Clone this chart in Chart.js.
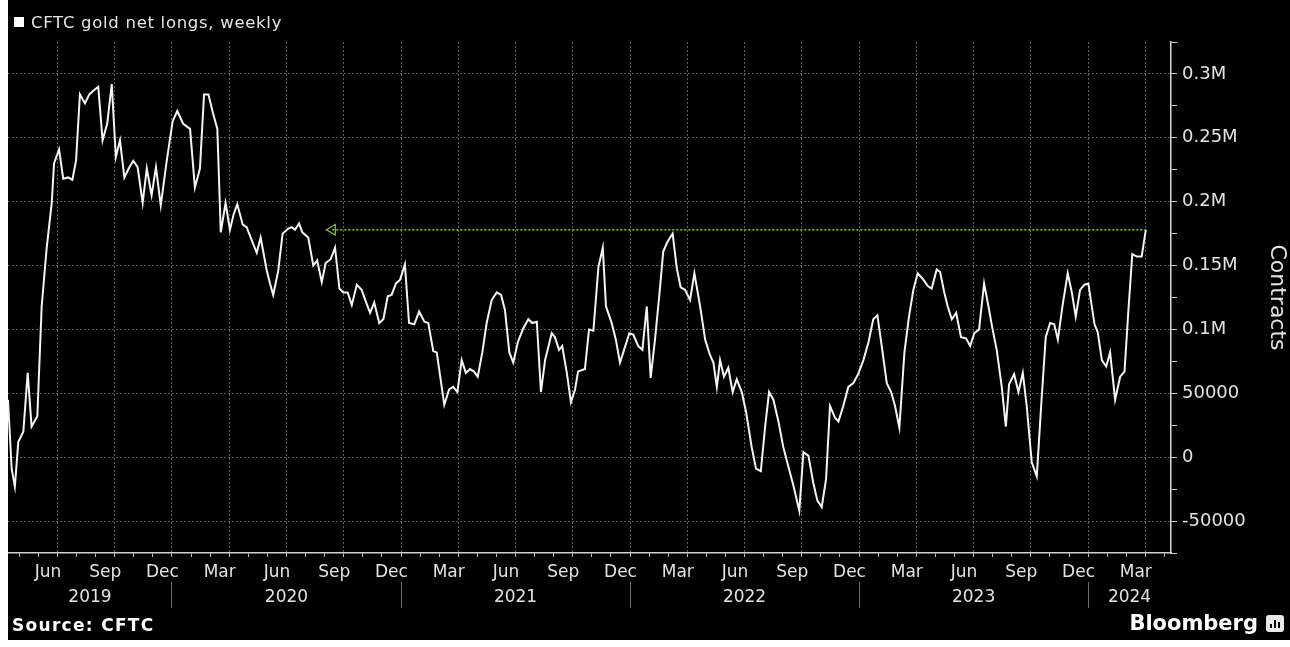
<!DOCTYPE html>
<html>
<head>
<meta charset="utf-8">
<title>CFTC gold net longs, weekly</title>
<script src="https://cdn.jsdelivr.net/npm/chart.js@4.4.1/dist/chart.umd.min.js"></script>
<style>
  body { margin: 0; background: #fff; width: 1290px; height: 647px; overflow: hidden; font-family: "DejaVu Sans", sans-serif; }
  #frame { position: absolute; left: 8px; top: 0; width: 1282px; height: 640px; background: #000; }
  #wrap { position: absolute; left: 0; top: 0; width: 1282px; height: 640px; }
  #legend { position: absolute; left: 6px; top: 12px; height: 20px; display: flex; align-items: center; color: #e6e6e6; font-size: 16.5px; letter-spacing: 0.7px; }
  #legend .box { width: 10px; height: 10px; background: #fff; margin-right: 7px; }
  #source { position: absolute; left: 4px; top: 614px; line-height: 22px; color: #fff; font-weight: bold; font-size: 17px; letter-spacing: 1.3px; }
  #brand { position: absolute; right: 32px; top: 611px; line-height: 25px; color: #fff; font-weight: bold; font-size: 21px; }
  #logo { position: absolute; left: 1258px; top: 615px; width: 18px; height: 17px; background: #e8e8e8; border-radius: 3px; }
  #logo i { position: absolute; bottom: 4px; width: 2px; background: #000; }
</style>
</head>
<body>
<div id="frame">
  <div id="wrap"><canvas id="gold-chart"></canvas></div>
  <div id="legend"><span class="box"></span>CFTC gold net longs, weekly</div>
  <div id="source">Source: CFTC</div>
  <div id="brand">Bloomberg</div>
  <div id="logo"><i style="left:4px;height:4px"></i><i style="left:8px;height:8px"></i><i style="left:12px;height:6px"></i></div>
</div>
<script>
// report dates as decimal years, net longs in thousand contracts
const weekDates = [
  2019.284, 2019.300, 2019.314, 2019.329, 2019.351, 2019.370, 2019.387, 2019.412, 2019.431, 2019.453,
  2019.475, 2019.485, 2019.507, 2019.525, 2019.547, 2019.565, 2019.581, 2019.598, 2019.620, 2019.639,
  2019.658, 2019.678, 2019.697, 2019.717, 2019.737, 2019.755, 2019.773, 2019.792, 2019.811, 2019.831,
  2019.850, 2019.872, 2019.890, 2019.911, 2019.930, 2019.951, 2019.977, 2020.003, 2020.023, 2020.049,
  2020.079, 2020.100, 2020.122, 2020.140, 2020.159, 2020.178, 2020.198, 2020.213, 2020.234, 2020.253,
  2020.269, 2020.285, 2020.309, 2020.326, 2020.348, 2020.370, 2020.387, 2020.414, 2020.428, 2020.442,
  2020.464, 2020.483, 2020.508, 2020.523, 2020.537, 2020.555, 2020.569, 2020.595, 2020.617, 2020.634,
  2020.654, 2020.671, 2020.693, 2020.712, 2020.731, 2020.748, 2020.767, 2020.785, 2020.807, 2020.828,
  2020.846, 2020.865, 2020.883, 2020.905, 2020.923, 2020.942, 2020.959, 2020.978, 2020.996, 2021.017,
  2021.035, 2021.058, 2021.079, 2021.102, 2021.119, 2021.141, 2021.156, 2021.172, 2021.189, 2021.210,
  2021.228, 2021.246, 2021.265, 2021.283, 2021.301, 2021.319, 2021.335, 2021.355, 2021.374, 2021.396,
  2021.418, 2021.437, 2021.454, 2021.473, 2021.490, 2021.510, 2021.534, 2021.556, 2021.573, 2021.593,
  2021.611, 2021.629, 2021.658, 2021.672, 2021.690, 2021.704, 2021.724, 2021.742, 2021.760, 2021.773,
  2021.803, 2021.821, 2021.840, 2021.862, 2021.881, 2021.895, 2021.920, 2021.938, 2021.956, 2021.974,
  2021.997, 2022.014, 2022.036, 2022.054, 2022.073, 2022.090, 2022.109, 2022.131, 2022.145, 2022.162,
  2022.175, 2022.186, 2022.204, 2022.221, 2022.240, 2022.262, 2022.281, 2022.306, 2022.328, 2022.349,
  2022.364, 2022.379, 2022.393, 2022.410, 2022.429, 2022.448, 2022.466, 2022.488, 2022.507, 2022.531,
  2022.550, 2022.571, 2022.590, 2022.607, 2022.626, 2022.648, 2022.669, 2022.691, 2022.713, 2022.739,
  2022.757, 2022.779, 2022.800, 2022.818, 2022.837, 2022.856, 2022.873, 2022.895, 2022.910, 2022.931,
  2022.953, 2022.975, 2022.996, 2023.019, 2023.041, 2023.062, 2023.080, 2023.099, 2023.121, 2023.140,
  2023.157, 2023.176, 2023.198, 2023.218, 2023.237, 2023.256, 2023.281, 2023.300, 2023.317, 2023.339,
  2023.354, 2023.372, 2023.387, 2023.405, 2023.424, 2023.445, 2023.467, 2023.485, 2023.503, 2023.524,
  2023.546, 2023.565, 2023.582, 2023.601, 2023.623, 2023.641, 2023.655, 2023.677, 2023.696, 2023.715,
  2023.732, 2023.754, 2023.776, 2023.795, 2023.815, 2023.834, 2023.852, 2023.868, 2023.888, 2023.911,
  2023.929, 2023.946, 2023.965, 2023.984, 2024.001, 2024.028, 2024.042, 2024.060, 2024.079, 2024.096,
  2024.118, 2024.140, 2024.159, 2024.176, 2024.193, 2024.213, 2024.234, 2024.252
];
const netLongsK = [
  45, -9, -23, 12, 20, 66, 24, 32, 118, 164,
  199, 230, 241, 218, 219, 217, 232, 284, 277, 284,
  287, 290, 248, 261, 292, 235, 248, 219, 226, 232,
  227, 199, 226, 205, 227, 197, 232, 263, 271, 261,
  257, 211, 226, 284, 284, 270, 257, 176, 199, 178,
  190, 198, 182, 180, 170, 160, 172, 146, 136, 127,
  146, 175, 179, 180, 178, 183, 176, 172, 150, 154,
  137, 152, 155, 164, 132, 129, 129, 119, 135, 131,
  122, 113, 121, 105, 108, 126, 127, 136, 139, 151,
  105, 104, 114, 106, 105, 83, 82, 62, 41, 53,
  55, 51, 76, 66, 69, 67, 63, 82, 105, 123,
  129, 127, 115, 82, 74, 90, 101, 108, 105, 106,
  51, 76, 97, 94, 84, 87, 66, 43, 53, 67,
  69, 100, 99, 149, 164, 118, 105, 92, 74, 84,
  97, 96, 87, 84, 118, 62, 92, 133, 161, 168,
  172, 175, 148, 133, 131, 123, 144, 118, 92, 80,
  74, 55, 76, 63, 70, 51, 61, 51, 35, 8,
  -9, -11, 24, 51, 45, 28, 8, -7, -22, -42,
  4, 1, -20, -34, -39, -17, 40, 31, 28, 40,
  55, 58, 65, 76, 90, 108, 111, 87, 58, 51,
  40, 23, 82, 110, 131, 144, 139, 134, 132, 147,
  145, 129, 118, 108, 113, 94, 93, 87, 97, 100,
  136, 118, 101, 84, 55, 24, 57, 65, 51, 66,
  40, -4, -15, 40, 94, 105, 104, 92, 118, 144,
  129, 110, 131, 135, 136, 104, 98, 76, 71, 82,
  45, 63, 67, 115, 159, 157, 157, 178
];
// green dotted marker back to the last time longs were this high
const refDates = [2020.70, 2024.252];
const refLevelsK = [178, 178];

const monthNames = ["Jan", "Feb", "Mar", "Apr", "May", "Jun", "Jul", "Aug", "Sep", "Oct", "Nov", "Dec"];
const labelledMonths = ["Mar", "Jun", "Sep", "Dec"];
const years = [2019, 2020, 2021, 2022, 2023, 2024];

const xMin = 2019.284;
const xMax = 2024.362;

const textColor = "#e2e2e2";
const gridColor = "#5c5c5c";

Chart.defaults.font.family = '"DejaVu Sans", sans-serif';

function monthBoundaryTicks() {
  const out = [];
  years.forEach((y) => {
    for (let m = 0; m < 12; m++) {
      const v = y + m / 12;
      if (v > xMin && v < xMax) out.push({ value: v, quarter: m % 3 === 0 });
    }
  });
  return out;
}

function monthLabelTicks() {
  const out = [];
  years.forEach((y) => {
    monthNames.forEach((name, m) => {
      const v = y + (m + 0.5) / 12;
      if (v > xMin && v < xMax) out.push({ value: v, name: labelledMonths.includes(name) ? name : "" });
    });
  });
  return out;
}

function yearTicks() {
  const out = [];
  years.forEach((y) => {
    if (y > xMin) out.push({ value: y, name: "", sep: true });
    const a = Math.max(y, xMin);
    const b = Math.min(y + 1, xMax);
    out.push({ value: (a + b) / 2, name: String(y) });
  });
  return out;
}

function formatContracts(v) {
  if (v % 50000 !== 0) return "";
  return Math.abs(v) >= 100000 ? v / 1e6 + "M" : String(v);
}

new Chart(document.getElementById("gold-chart"), {
  type: "line",
  data: {
    datasets: [
      {
        label: "CFTC gold net longs, weekly",
        data: weekDates.map((d, i) => ({ x: d, y: netLongsK[i] * 1000 })),
        borderColor: "#f4f4f4",
        borderWidth: 2,
        pointRadius: 0,
        tension: 0,
        order: 1,
      },
      {
        label: "Current level",
        data: refDates.map((d, i) => ({ x: d, y: refLevelsK[i] * 1000 })),
        borderColor: "#8cc63f",
        borderWidth: 1.5,
        borderDash: [2, 2],
        pointStyle: "triangle",
        pointRotation: -90,
        pointRadius: [6, 0],
        pointBorderColor: "#8cc63f",
        pointBackgroundColor: "rgba(0,0,0,0)",
        pointBorderWidth: 1.2,
        order: 2,
      },
    ],
  },
  options: {
    responsive: true,
    maintainAspectRatio: false,
    animation: false,
    events: [],
    layout: { autoPadding: false, padding: { top: 42, left: 0, right: 0, bottom: 30 } },
    plugins: {
      legend: { display: false },
      tooltip: { enabled: false },
    },
    scales: {
      x: {
        type: "linear",
        position: "bottom",
        min: xMin,
        max: xMax,
        afterBuildTicks: (scale) => { scale.ticks = monthBoundaryTicks(); },
        afterFit: (scale) => { scale.height = 9; },
        ticks: { display: false, autoSkip: false, padding: 0 },
        grid: {
          color: (ctx) => (ctx.tick && ctx.tick.quarter ? gridColor : "rgba(0,0,0,0)"),
          tickColor: "#bdbdbd",
          tickLength: 4,
        },
        border: { color: "#d0d0d0", width: 1.5, dash: [2, 2] },
      },
      months: {
        type: "linear",
        position: "bottom",
        min: xMin,
        max: xMax,
        afterBuildTicks: (scale) => { scale.ticks = monthLabelTicks(); },
        afterFit: (scale) => { scale.height = 20; },
        ticks: {
          autoSkip: false,
          maxRotation: 0,
          color: textColor,
          font: { size: 17 },
          padding: 0,
          callback: (value, index, ticks) => ticks[index].name,
        },
        grid: { display: false, drawTicks: false },
        border: { display: false },
      },
      years: {
        type: "linear",
        position: "bottom",
        min: xMin,
        max: xMax,
        afterBuildTicks: (scale) => { scale.ticks = yearTicks(); },
        afterFit: (scale) => { scale.height = 28; },
        ticks: {
          autoSkip: false,
          maxRotation: 0,
          color: textColor,
          font: { size: 17 },
          padding: -21,
          callback: (value, index, ticks) => ticks[index].name,
        },
        grid: {
          drawOnChartArea: false,
          tickLength: 26,
          tickColor: (ctx) => (ctx.tick && ctx.tick.sep ? "#6a6a6a" : "rgba(0,0,0,0)"),
        },
        border: { display: false },
      },
      y: {
        position: "right",
        min: -75000,
        max: 325000,
        afterFit: (scale) => { scale.width = 119; },
        ticks: {
          stepSize: 25000,
          color: textColor,
          font: { size: 18 },
          padding: 5,
          callback: (value) => formatContracts(value),
        },
        grid: {
          color: (ctx) => (ctx.tick && ctx.tick.value % 50000 === 0 ? gridColor : "rgba(0,0,0,0)"),
          tickColor: "#cfcfcf",
          tickLength: 6,
        },
        border: { color: "#d8d8d8", width: 1.5, dash: [2, 2] },
        title: {
          display: true,
          text: "Contracts",
          color: textColor,
          font: { size: 22 },
          padding: 0,
        },
      },
    },
  },
});
</script>
</body>
</html>
